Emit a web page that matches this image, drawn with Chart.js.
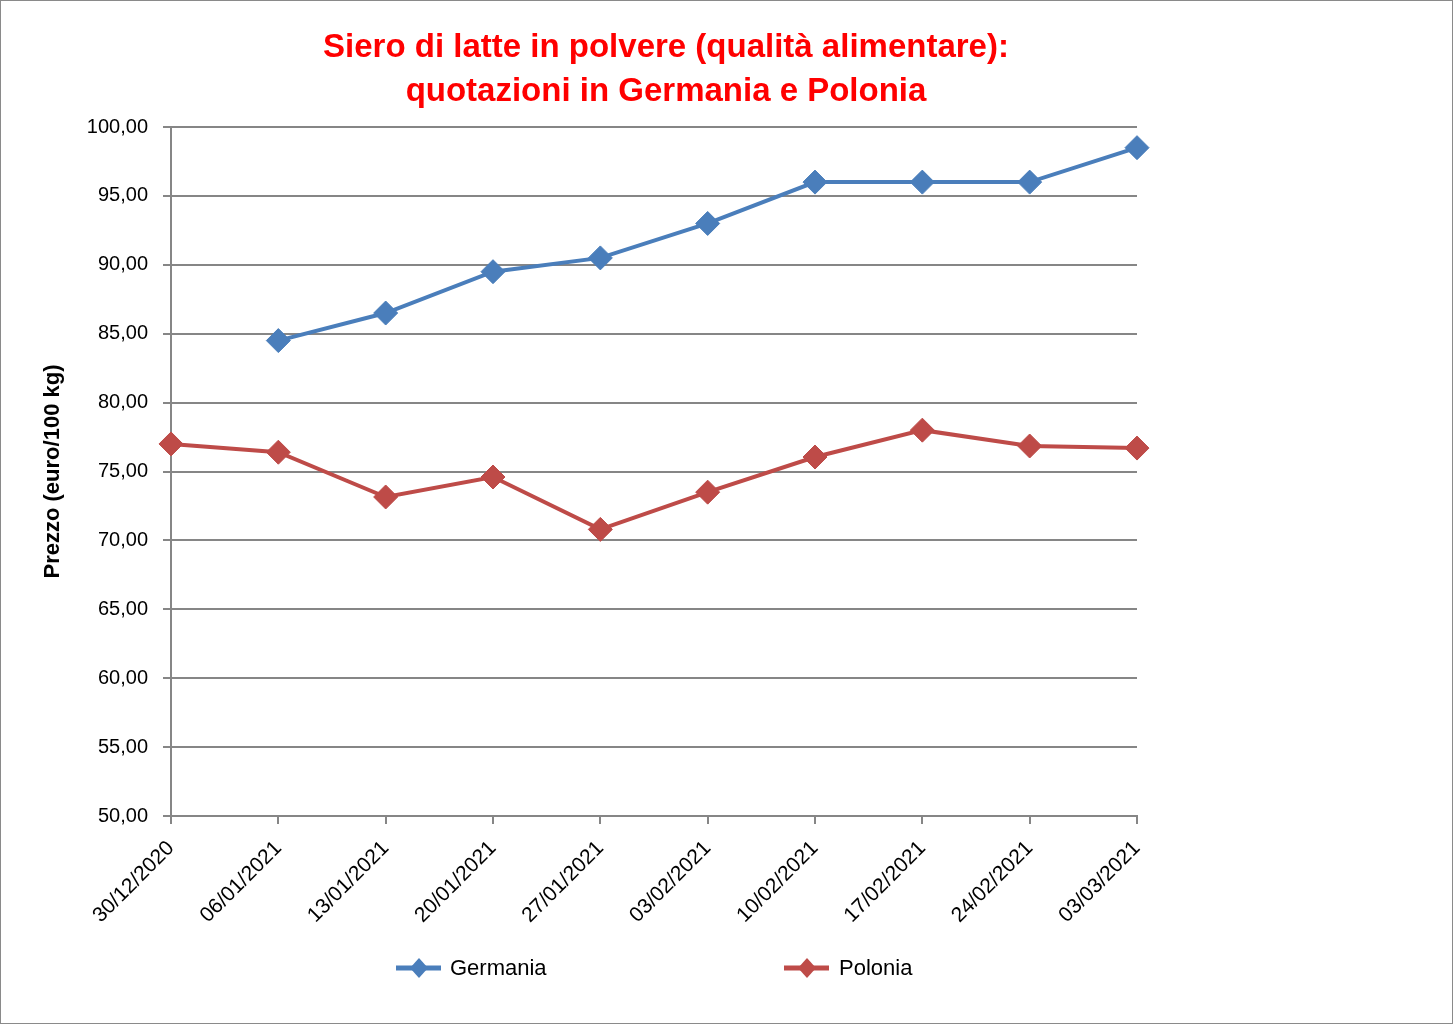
<!DOCTYPE html>
<html lang="it">
<head>
<meta charset="utf-8">
<title>Siero di latte in polvere</title>
<script src="https://cdn.jsdelivr.net/npm/chart.js@4.4.0/dist/chart.umd.min.js"></script>
<style>
    html, body { margin: 0; padding: 0; background: #fff; }
    #wrap { width: 1453px; height: 1024px; }
</style>
</head>
<body>
<div id="wrap"><canvas id="chart" width="1453" height="1024"></canvas></div>
<script>
// Dati
const dates = ['30/12/2020', '06/01/2021', '13/01/2021', '20/01/2021', '27/01/2021',
    '03/02/2021', '10/02/2021', '17/02/2021', '24/02/2021', '03/03/2021'];
const germania = [null, 84.5, 86.5, 89.5, 90.5, 93, 96, 96, 96, 98.5];
const polonia = [77, 76.4, 73.15, 74.6, 70.8, 73.5, 76.05, 78, 76.85, 76.7];
const yTicks = [50, 55, 60, 65, 70, 75, 80, 85, 90, 95, 100];
const titleLines = ['Siero di latte in polvere (qualità alimentare):', 'quotazioni in Germania e Polonia'];

const FONT = "'Liberation Sans', Arial, sans-serif";
const GRID = '#868686';
const BLUE = '#4A7EBB';
const RED = '#BE4B48';

// Sfondo, cornice e titolo
const frame = {
    id: 'frame',
    beforeDraw(chart) {
        const ctx = chart.ctx;
        ctx.save();
        ctx.fillStyle = '#fff';
        ctx.fillRect(0, 0, chart.width, chart.height);
        ctx.strokeStyle = '#8a8a8a';
        ctx.lineWidth = 1;
        ctx.strokeRect(0.5, 0.5, chart.width - 1, chart.height - 1);
        ctx.restore();
    },
    afterDraw(chart) {
        const ctx = chart.ctx;
        ctx.save();
        ctx.fillStyle = '#FF0000';
        ctx.font = 'bold 33px ' + FONT;
        ctx.textAlign = 'center';
        ctx.textBaseline = 'alphabetic';
        ctx.fillText(titleLines[0], 666, 57);
        ctx.fillText(titleLines[1], 666, 101);
        ctx.restore();
    }
};

// Legenda in basso, come nel foglio originale
const bottomLegend = {
    id: 'bottomLegend',
    afterDraw(chart) {
        const ctx = chart.ctx;
        const slots = [{ x: 396, text: 450 }, { x: 784, text: 839 }];
        const y = 968;
        ctx.save();
        chart.data.datasets.forEach((ds, i) => {
            const s = slots[i];
            ctx.strokeStyle = ds.borderColor;
            ctx.lineWidth = 5;
            ctx.beginPath();
            ctx.moveTo(s.x, y);
            ctx.lineTo(s.x + 45, y);
            ctx.stroke();
            const cx = s.x + 23;
            ctx.fillStyle = ds.pointBackgroundColor;
            ctx.beginPath();
            ctx.moveTo(cx, y - 10);
            ctx.lineTo(cx + 9, y);
            ctx.lineTo(cx, y + 10);
            ctx.lineTo(cx - 9, y);
            ctx.closePath();
            ctx.fill();
            ctx.fillStyle = '#000';
            ctx.font = '22px ' + FONT;
            ctx.textAlign = 'left';
            ctx.textBaseline = 'middle';
            ctx.fillText(ds.label, s.text, y + 1);
        });
        ctx.restore();
    }
};

const PAD_LEFT = 36;
const PAD_BOTTOM = 80;

new Chart(document.getElementById('chart').getContext('2d'), {
    type: 'line',
    data: {
        labels: dates,
        datasets: [
            { label: 'Germania', data: germania, borderColor: BLUE, backgroundColor: BLUE,
              pointBackgroundColor: BLUE, pointBorderColor: BLUE, borderWidth: 4,
              pointStyle: 'rectRot', pointRadius: 12, pointBorderWidth: 1, tension: 0 },
            { label: 'Polonia', data: polonia, borderColor: RED, backgroundColor: RED,
              pointBackgroundColor: RED, pointBorderColor: RED, borderWidth: 4,
              pointStyle: 'rectRot', pointRadius: 12, pointBorderWidth: 1, tension: 0 }
        ]
    },
    options: {
        responsive: false,
        animation: false,
        devicePixelRatio: 1,
        layout: { padding: { left: PAD_LEFT, top: 127, right: 316, bottom: PAD_BOTTOM } },
        plugins: {
            legend: { display: false },
            title: { display: false },
            tooltip: { enabled: false }
        },
        scales: {
            x: {
                type: 'category',
                offset: false,
                grid: { display: true, drawOnChartArea: false, drawTicks: true, tickLength: 8, color: GRID, lineWidth: 2 },
                border: { display: true, color: GRID, width: 2 },
                ticks: { minRotation: 45, maxRotation: 45, autoSkip: false, padding: 12,
                         color: '#000', font: { family: FONT, size: 21 } },
                afterFit(scale) { scale.height = 1024 - 816 - PAD_BOTTOM; }
            },
            y: {
                min: 50,
                max: 100,
                afterBuildTicks(scale) { scale.ticks = yTicks.map(v => ({ value: v })); },
                grid: { color: GRID, lineWidth: 2, drawTicks: true, tickLength: 8 },
                border: { display: true, color: GRID, width: 2 },
                ticks: { padding: 15, color: '#000', font: { family: FONT, size: 20 },
                         callback: v => v.toFixed(2).replace('.', ',') },
                title: { display: true, text: 'Prezzo (euro/100 kg)', color: '#000',
                         font: { family: FONT, size: 22, weight: 'bold' } },
                afterFit(scale) { scale.width = 171 - PAD_LEFT; }
            }
        }
    },
    plugins: [frame, bottomLegend]
});
</script>
</body>
</html>
